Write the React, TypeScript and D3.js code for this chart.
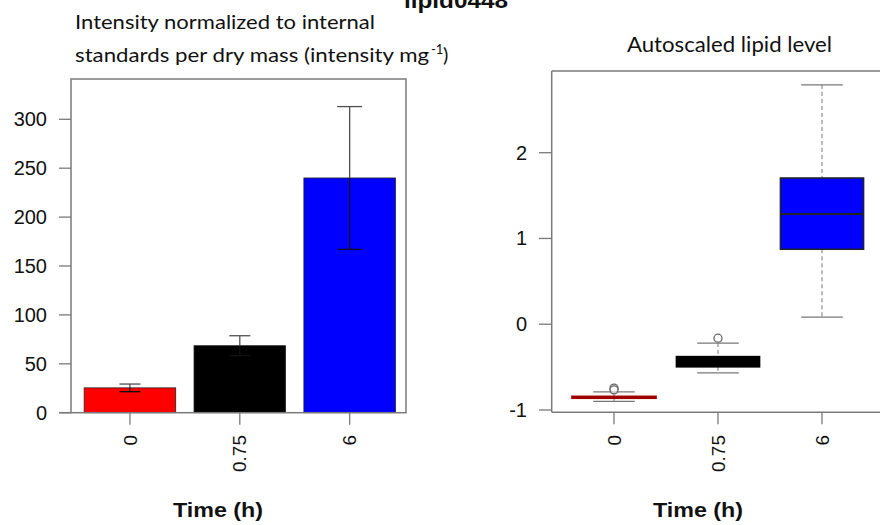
import React from "react";
import * as d3 from "d3";

const categories = ["0", "0.75", "6"];
const barMeans = [25.4, 68.5, 240.0];
const barErrors = [3.9, 10.2, 73.0];
const groupColors = ["#ff0000", "#000000", "#0000ff"];
const boxBorder = ["#a00000", "#000000", "#222222"];
const leftTicks = [0, 50, 100, 150, 200, 250, 300];

const boxLow = [-0.9, -0.567, 0.082];
const boxQ1 = [-0.858, -0.497, 0.874];
const boxMedian = [-0.852, -0.44, 1.285];
const boxQ3 = [-0.846, -0.377, 1.705];
const boxHigh = [-0.789, -0.22, 2.79];
const boxOutliers = [[-0.745, -0.765], [-0.163], []];
const rightTicks = [-1, 0, 1, 2];

const W = 880;
const H = 525;
const AX = "Liberation Sans, Arial, Helvetica, sans-serif";
const NOTE = "Lato, 'Open Sans', sans-serif";
const FRAME = "#7a7a7a";

export default function App() {
  // Left panel scales
  const xL = d3.scaleBand<string>().domain(categories).range([75, 404.6]).paddingInner(1 / 6).paddingOuter(1 / 12);
  const yL = d3.scaleLinear().domain([0, 341.2]).range([412.7, 79]);
  const lL = 71, rL = 406, tL = 79, bL = 412.7;

  // Right panel scales
  const xR = d3.scaleBand<string>().domain(categories).range([562, 874]).padding(0);
  const yR = d3.scaleLinear().domain([-1, 2]).range([410, 152.7]);
  const lR = 551.7, tR = 71, bR = 412.3;
  const bw = xR.bandwidth() * 0.8;
  const capW = xR.bandwidth() * 0.4;

  return (
    <svg width={W} height={H} style={{ position: "absolute", left: 0, top: 0, background: "#fff" }}>
      <rect x={0} y={0} width={W} height={H} fill="#fff" />
      {/* Title (partly cut at the top, as in the reference) */}
      <text x={456} y={8} textAnchor="middle" fontFamily={AX} fontWeight="bold" fontSize={22} textLength={104} lengthAdjust="spacingAndGlyphs" fill="#111">lipid0448</text>

      {/* Left annotation */}
      <text x={75} y={29} fontFamily={NOTE} fontSize={20} textLength={300} lengthAdjust="spacingAndGlyphs" fill="#111">Intensity normalized to internal</text>
      <text x={75} y={62} fontFamily={NOTE} fontSize={20} textLength={354} lengthAdjust="spacingAndGlyphs" fill="#111">standards per dry mass (intensity mg</text>
      <text x={431} y={54} fontFamily={NOTE} fontSize={13} fill="#111">-1</text>
      <text x={443} y={62} fontFamily={NOTE} fontSize={20} fill="#111">)</text>

      {/* Right annotation */}
      <text x={627} y={52} fontFamily={NOTE} fontSize={21} textLength={205} lengthAdjust="spacingAndGlyphs" fill="#111">Autoscaled lipid level</text>

      {/* LEFT PANEL */}
      {categories.map((c, i) => (
        <rect key={"bar" + c} x={xL(c)!} y={yL(barMeans[i])} width={xL.bandwidth()} height={yL(0) - yL(barMeans[i])}
          fill={groupColors[i]} stroke="#222" strokeWidth={0.8} />
      ))}
      {categories.map((c, i) => {
        const cx = xL(c)! + xL.bandwidth() / 2;
        const top = yL(barMeans[i]);
        const hi = yL(barMeans[i] + barErrors[i]);
        const lo = yL(barMeans[i] - barErrors[i]);
        const cw = i === 2 ? 12.5 : 10.5;
        return (
          <g key={"err" + c} strokeWidth={1.3}>
            <line x1={cx} x2={cx} y1={hi} y2={top} stroke="#505050" />
            <line x1={cx - cw} x2={cx + cw} y1={hi} y2={hi} stroke="#505050" />
            <line x1={cx} x2={cx} y1={top} y2={lo} stroke="#111" />
            <line x1={cx - cw} x2={cx + cw} y1={lo} y2={lo} stroke="#111" />
          </g>
        );
      })}
      <rect x={lL} y={tL} width={rL - lL} height={bL - tL} fill="none" stroke={FRAME} strokeWidth={1.5} />
      <line x1={59} x2={lL} y1={bL} y2={bL} stroke={FRAME} strokeWidth={1.5} />
      {leftTicks.map((t) => (
        <g key={"lt" + t}>
          <line x1={59} x2={lL} y1={yL(t)} y2={yL(t)} stroke={FRAME} strokeWidth={1.3} />
          <text x={47} y={yL(t)} dy="0.35em" textAnchor="end" fontFamily={AX} fontSize={20} fill="#111">{t}</text>
        </g>
      ))}
      {categories.map((c) => {
        const cx = xL(c)! + xL.bandwidth() / 2;
        return (
          <g key={"lx" + c}>
            <line x1={cx} x2={cx} y1={bL} y2={bL + 12} stroke={FRAME} strokeWidth={1.3} />
            <text transform={`translate(${cx},435) rotate(-90)`} dy="0.35em" textAnchor="end" fontFamily={AX} fontSize={19} fill="#111">{c}</text>
          </g>
        );
      })}
      <text x={218} y={517} textAnchor="middle" fontFamily={AX} fontWeight="bold" fontSize={21} textLength={90} lengthAdjust="spacingAndGlyphs" fill="#111">Time (h)</text>

      {/* RIGHT PANEL */}
      {categories.map((c, i) => {
        const cx = xR(c)! + xR.bandwidth() / 2;
        return (
          <g key={"box" + c}>
            <line x1={cx} x2={cx} y1={yR(boxHigh[i])} y2={yR(boxQ3[i])} stroke="#777" strokeWidth={1} strokeDasharray="4,3" />
            <line x1={cx} x2={cx} y1={yR(boxQ1[i])} y2={yR(boxLow[i])} stroke="#777" strokeWidth={1} strokeDasharray="4,3" />
            <line x1={cx - capW / 2} x2={cx + capW / 2} y1={yR(boxHigh[i])} y2={yR(boxHigh[i])} stroke="#777" strokeWidth={1.3} />
            <line x1={cx - capW / 2} x2={cx + capW / 2} y1={yR(boxLow[i])} y2={yR(boxLow[i])} stroke="#777" strokeWidth={1.3} />
            <rect x={cx - bw / 2} y={yR(boxQ3[i])} width={bw} height={yR(boxQ1[i]) - yR(boxQ3[i])}
              fill={groupColors[i]} stroke={boxBorder[i]} strokeWidth={i === 0 ? 2.5 : 1.5} />
            <line x1={cx - bw / 2} x2={cx + bw / 2} y1={yR(boxMedian[i])} y2={yR(boxMedian[i])} stroke={boxBorder[i]} strokeWidth={2} />
            {boxOutliers[i].map((o, j) => (
              <circle key={j} cx={cx} cy={yR(o)} r={4} fill="#fff" fillOpacity={0.6} stroke="#666" strokeWidth={1.3} />
            ))}
          </g>
        );
      })}
      <line x1={lR} x2={lR} y1={tR} y2={bR} stroke={FRAME} strokeWidth={1.5} />
      <line x1={lR} x2={W} y1={tR} y2={tR} stroke={FRAME} strokeWidth={1.5} />
      <line x1={lR} x2={W} y1={bR} y2={bR} stroke={FRAME} strokeWidth={1.5} />
      {rightTicks.map((t) => (
        <g key={"rt" + t}>
          <line x1={539} x2={lR} y1={yR(t)} y2={yR(t)} stroke={FRAME} strokeWidth={1.3} />
          <text x={527} y={yR(t)} dy="0.35em" textAnchor="end" fontFamily={AX} fontSize={20} fill="#111">{t}</text>
        </g>
      ))}
      {categories.map((c) => {
        const cx = xR(c)! + xR.bandwidth() / 2;
        return (
          <g key={"rx" + c}>
            <line x1={cx} x2={cx} y1={bR} y2={bR + 12} stroke={FRAME} strokeWidth={1.3} />
            <text transform={`translate(${cx},435) rotate(-90)`} dy="0.35em" textAnchor="end" fontFamily={AX} fontSize={19} fill="#111">{c}</text>
          </g>
        );
      })}
      <text x={698} y={517} textAnchor="middle" fontFamily={AX} fontWeight="bold" fontSize={21} textLength={90} lengthAdjust="spacingAndGlyphs" fill="#111">Time (h)</text>
    </svg>
  );
}
